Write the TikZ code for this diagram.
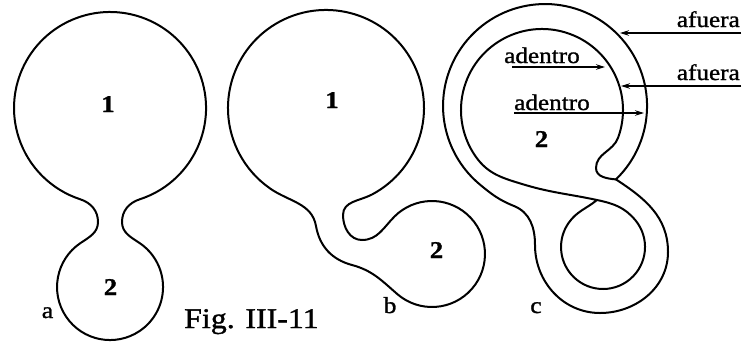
\documentclass[tikz,border=0pt]{standalone}
\usepackage{fontspec}
\setmainfont{Liberation Serif}[FakeStretch=1.12, FakeBold=1.2]
\usetikzlibrary{arrows.meta}

\begin{document}
\begin{tikzpicture}[x=1pt,y=1pt,yscale=-1,
  membrane/.style={line width=2pt, line join=round, line cap=round},
  pointer/.style={line width=1.3pt, -{Stealth[length=9pt,width=5.5pt]}},
  tag/.style={font=\fontsize{22.5}{24}\selectfont, inner sep=0pt},
  num/.style={font=\fontsize{24}{26}\selectfont\bfseries, inner sep=0pt, anchor=base},
  letter/.style={font=\fontsize{23}{25}\selectfont, inner sep=0pt, anchor=base},
  caption/.style={font=\fontsize{28.5}{30}\selectfont, inner sep=0pt, anchor=base west}]

\fill[white] (0,0) rectangle (742,341);
\useasboundingbox (0,0) rectangle (742,341);

% ---- a: two bulbs joined by a narrow neck
\draw[membrane] (80.3,199.3) to[out=18,in=270] (98,222) to[out=90,in=326] (80.4,243.1)
  arc[start angle=236,end angle=-56,radius=53pt]
  to[out=214,in=90] (122,222) to[out=270,in=162] (139.7,199.3)
  arc[start angle=72,end angle=-252,radius=96pt] -- cycle;
\node[num] (a1) at (108,112) {1};
\node[num] (a2) at (110.5,295) {2};
\node[letter] (la) at (47.5,318) {a};

% ---- b: the small bulb swings round to the right
\draw[membrane] (269.8,188.3) to[out=35,in=260] (316,226) to[out=80,in=195] (352,265)
  to[out=15,in=221] (397.2,294.0)
  arc[start angle=131,end angle=-135,radius=53pt]
  to[out=135,in=0] (362,240) to[out=180,in=90] (343,215) to[out=270,in=152] (372.0,194.5)
  arc[start angle=62,end angle=-235,radius=98pt] -- cycle;
\node[num] (b1) at (332,108) {1};
\node[num] (b2) at (436.5,258) {2};
\node[letter] (lb) at (390,313) {b};

% ---- c: double membrane wrapped around region 2
\coordinate (J1) at (615.9,179.4);
\coordinate (J2) at (597,200);
\draw[membrane] (J1) arc[start angle=46,end angle=-230,radius=102pt]
  to[out=40,in=202] (514,206) to[out=22,in=270] (535,245)
  to[out=90,in=180] (600,313) to[out=0,in=90] (668,252) to[out=-90,in=33] (J1);
\draw[membrane] (J1) to[out=185,in=90] (596,168) to[out=270,in=110] (618.1,137.7)
  arc[start angle=20,end angle=-215,radius=81pt]
  to[out=55,in=197] (522,184) to[out=17,in=192] (J2)
  to[out=12,in=230] (635.2,220)
  arc[start angle=-40,end angle=215,radius=42pt]
  to[out=-55,in=141] (J2);
\node[num] (c2) at (541.5,147) {2};
\node[letter] (lc) at (536,313) {c};

% ---- inside / outside pointers
\node[tag, anchor=base east] (out1) at (740,27) {afuera};
\node[tag, anchor=base west] (in1) at (504,63) {adentro};
\node[tag, anchor=base east] (out2) at (740,80) {afuera};
\node[tag, anchor=base west] (in2) at (514,110) {adentro};
\coordinate (out1t) at (741,33);  \coordinate (out1h) at (620,33);
\coordinate (in1t)  at (512,67);  \coordinate (in1h)  at (605,67);
\coordinate (out2t) at (741,86);  \coordinate (out2h) at (621,86);
\coordinate (in2t)  at (514,113); \coordinate (in2h)  at (644,113);
\draw[pointer] (out1t) -- (out1h);
\draw[pointer] (in1t) -- (in1h);
\draw[pointer] (out2t) -- (out2h);
\draw[pointer] (in2t) -- (in2h);

\node[caption] (fig) at (184,328) {Fig. III-11};
\end{tikzpicture}
\end{document}
